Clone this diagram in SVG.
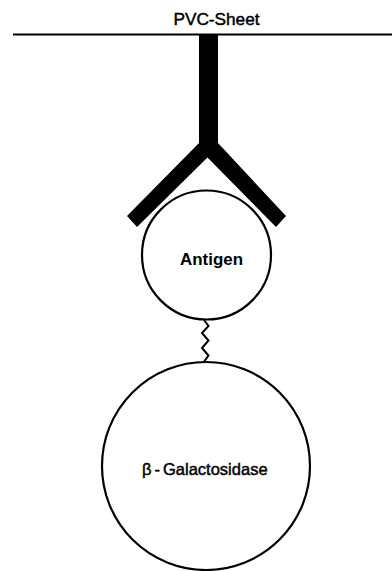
<svg xmlns="http://www.w3.org/2000/svg" width="392" height="571" viewBox="0 0 392 571">
<style>
.lbl{font-family:"Liberation Sans",Arial,sans-serif;fill:#000}
.med{stroke:#000;stroke-width:0.45}
.ring{fill:#fff;stroke:#000;stroke-width:2.2}
</style>
<rect width="392" height="571" fill="#fff"/>
<g id="pvc-sheet">
<line x1="13" y1="34.5" x2="392" y2="34.5" stroke="#000" stroke-width="2.2"/>
<text class="lbl med" x="173.5" y="24.5" font-size="16.5" textLength="86" lengthAdjust="spacingAndGlyphs">PVC-Sheet</text>
</g>
<g id="antibody">
<polygon points="199,34 218,34 218,143 286,216 276,227 207.5,157.5 137,227 127,216 199,143" fill="#000"/>
</g>
<g id="connectors">
<polyline points="204,320 208.5,326 202,333 208.5,340.5 202,348 208.5,355.5 203,363" fill="none" stroke="#000" stroke-width="2"/>
</g>
<g id="antigen">
<circle class="ring" cx="206.5" cy="255" r="64.5"/>
<text class="lbl" x="180" y="265" font-size="17" font-weight="bold" textLength="63" lengthAdjust="spacingAndGlyphs">Antigen</text>
</g>
<g id="galactosidase">
<circle class="ring" cx="206" cy="466" r="104"/>
<text class="lbl med" x="142" y="474.5" font-size="16.5">β<tspan dx="3">-</tspan><tspan dx="3">Galactosidase</tspan></text>
</g>
</svg>
